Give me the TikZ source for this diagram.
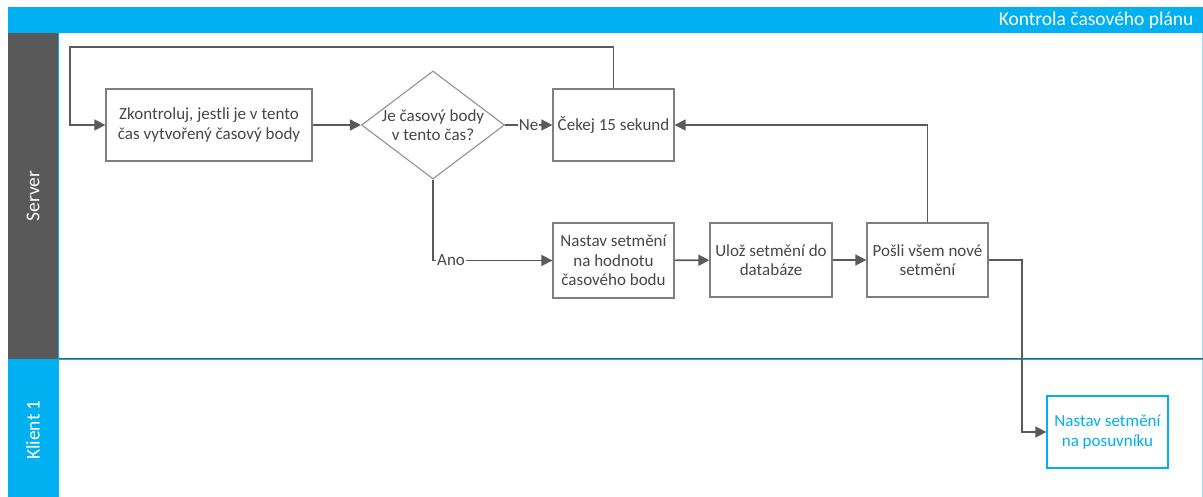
\documentclass[tikz,border=0pt]{standalone}
\usepackage{fontspec}
\setmainfont{Carlito}
\usetikzlibrary{arrows.meta,shapes.geometric,calc}
\definecolor{laneblue}{HTML}{00B0F0}
\definecolor{lanegray}{HTML}{595959}
\definecolor{linegray}{HTML}{5A5A5A}
\definecolor{boxgray}{HTML}{7F7F7F}
\begin{document}
\begin{tikzpicture}[x=1pt,y=-1pt,
  every node/.style={font=\fontsize{17}{19.5}\selectfont},
  stepbox/.style={draw=boxgray,line width=1.3pt,fill=white,rectangle,
    minimum width=121pt,minimum height=73pt,align=center,inner sep=1pt,text=black!72},
  clientbox/.style={stepbox,draw=laneblue,text=laneblue},
  decision/.style={draw=boxgray!85,line width=1.1pt,fill=white,diamond,
    minimum width=143pt,minimum height=108pt,inner sep=0pt},
  flow/.style={draw=linegray,line width=1.6pt,-{Triangle[length=11pt,width=11pt]}},
  flowlabel/.style={fill=white,inner sep=1pt,text=black!72},
  lanelabel/.style={text=white,rotate=90,font=\fontsize{19.5}{22}\selectfont}]
\useasboundingbox (0,0) rectangle (1203,497);
% swimlane frame
\fill[white] (0,0) rectangle (1203,497);
\fill[laneblue] (8,7) rectangle (1203,33);
\fill[lanegray] (8,33) rectangle (57.5,359);
\fill[laneblue] (8,359) rectangle (57.5,497);
\draw[laneblue,line width=1pt] (58.5,33) -- (58.5,497);
\draw[laneblue!40,line width=0.8pt] (1202.5,33) -- (1202.5,497);
\draw[lanegray,line width=1pt] (58.5,358.2) -- (1203,358.2);
\draw[laneblue,line width=1.4pt] (58.5,359.6) -- (1203,359.6);
\node[text=white,anchor=east,font=\fontsize{19.5}{22}\selectfont] (title) at (1197,20) {Kontrola časového plánu};
\node[lanelabel] (srv) at (33,196) {Server};
\node[lanelabel] (cl1) at (33,430) {Klient 1};
% process steps
\node[stepbox,minimum width=206pt,minimum height=72pt] (zk) at (209,125)
  {Zkontroluj, jestli je v tento\\čas vytvořený časový body};
\node[decision] (dia) at (433,125) {};
\node[text=black!72,align=center] (diat) at (433,125) {Je časový body\\v tento čas?};
\node[stepbox,minimum height=72pt] (cek) at (613.5,125) {Čekej 15 sekund};
\node[stepbox,minimum height=75pt] (nas) at (613.5,260.5) {Nastav setmění\\na hodnotu\\časového bodu};
\node[stepbox,minimum width=122pt,minimum height=74pt] (ulo) at (771,260) {Ulož setmění do\\databáze};
\node[stepbox,minimum height=74pt] (pos) at (927.5,260) {Pošli všem nové\\setmění};
\node[clientbox,minimum height=72pt] (kli) at (1107.5,432) {Nastav setmění\\na posuvníku};
% connectors
\coordinate (loopR) at (613.5,47);
\coordinate (loopL) at (70,47);
\coordinate (anoC) at (433,260.5);
\coordinate (outR) at (1022,260);
\draw[flow] (zk) -- (dia.west);
\draw[flow] (dia.east) -- (cek.west) node[flowlabel,pos=0.5] (ne) {Ne};
\draw[flow] (dia.south) -- (anoC) -- (nas.west);
\node[flowlabel,anchor=west] (ano) at ($(anoC)+(3,0)$) {Ano};
\draw[flow] (cek.north) -- (loopR) -- (loopL) -- (loopL |- zk.west) -- (zk.west);
\draw[flow] (nas) -- (ulo);
\draw[flow] (ulo) -- (pos);
\draw[flow] (pos.north) -- (pos.north |- cek.east) -- (cek.east);
\draw[flow] (pos.east) -- (outR) -- (outR |- kli.west) -- (kli.west);
\end{tikzpicture}
\end{document}
